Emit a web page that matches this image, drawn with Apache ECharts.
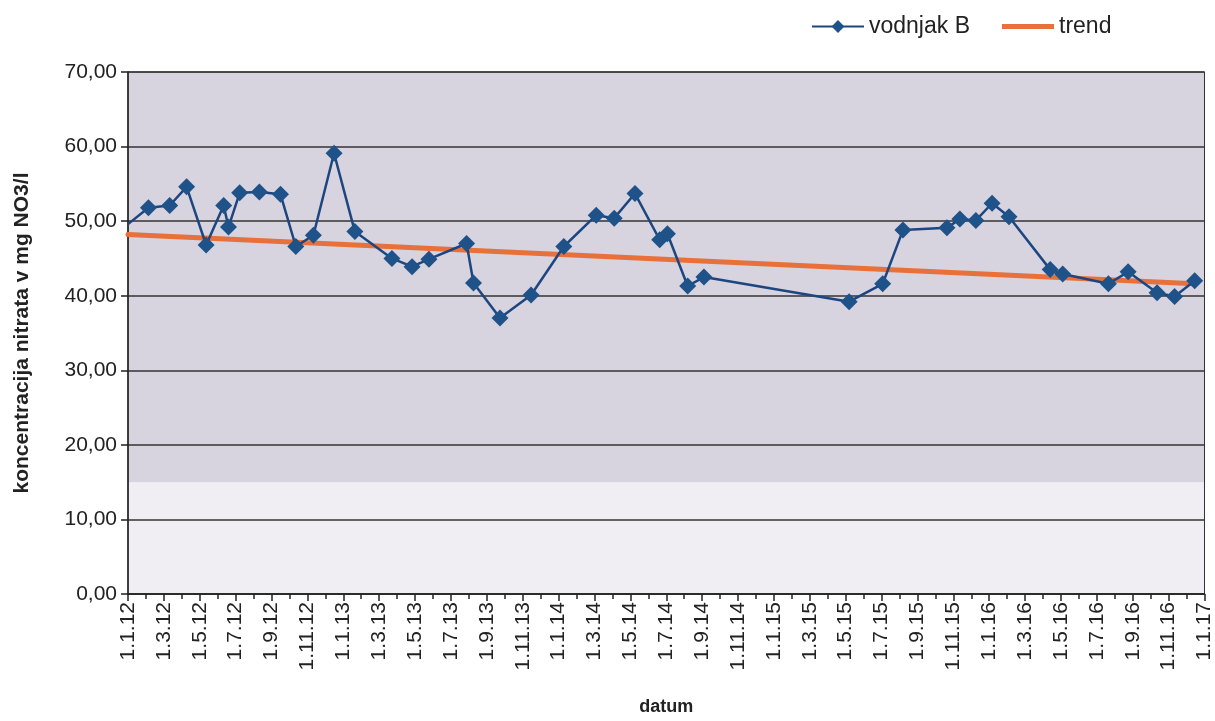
<!DOCTYPE html>
<html>
<head>
<meta charset="utf-8">
<script src="https://cdn.jsdelivr.net/npm/echarts@6/dist/echarts.min.js"></script>
<style>
  html, body { margin: 0; padding: 0; background: #fff; }
  #chart { width: 1215px; height: 721px; }
</style>
</head>
<body>
<div id="chart"></div>
<script>
// datumi meritev (vodnjak B)
var datumi = [
  '2012-01-01', '2012-02-05', '2012-03-11', '2012-04-09', '2012-05-12', '2012-06-11',
  '2012-06-19', '2012-07-08', '2012-08-11', '2012-09-16', '2012-10-12', '2012-11-11',
  '2012-12-16', '2013-01-21', '2013-03-23', '2013-04-26', '2013-05-25', '2013-07-28',
  '2013-08-09', '2013-09-23', '2013-11-15', '2014-01-10', '2014-03-04', '2014-04-04',
  '2014-05-09', '2014-06-20', '2014-07-03', '2014-08-07', '2014-09-04', '2015-05-07',
  '2015-07-03', '2015-08-07', '2015-10-21', '2015-11-12', '2015-12-09', '2016-01-06',
  '2016-02-04', '2016-04-13', '2016-05-04', '2016-07-21', '2016-08-24', '2016-10-12',
  '2016-11-11', '2016-12-15'
];
// koncentracija nitrata (mg NO3/l)
var vodnjakB = [
  49.6, 51.8, 52.1, 54.6, 46.8, 52.1,
  49.2, 53.8, 53.9, 53.6, 46.6, 48.1,
  59.1, 48.6, 45.0, 43.9, 44.9, 47.0,
  41.7, 37.0, 40.1, 46.6, 50.8, 50.4,
  53.7, 47.5, 48.3, 41.3, 42.5, 39.2,
  41.6, 48.8, 49.1, 50.3, 50.1, 52.4,
  50.6, 43.5, 42.9, 41.6, 43.2, 40.4,
  39.9, 42.0
];
// trend - zacetek in konec
var trendDatumi = ['2012-01-01', '2016-12-15'];
var trendVrednosti = [48.2, 41.6];

// pasovi ozadja
var pasSpodaj = [0, 15];
var pasZgoraj = [15, 70];

// datum -> stevilo mesecev od 1.1.2012
function meseci(d) {
  var p = d.split('-');
  var y = +p[0], m = +p[1], dan = +p[2];
  var dni = new Date(y, m, 0).getDate();
  return (y - 2012) * 12 + (m - 1) + (dan - 1) / dni;
}

var tockeB = datumi.map(function (d, i) {
  var t = { value: [meseci(d), vodnjakB[i]] };
  if (i === 0) t.symbol = 'none';
  return t;
});
var tockeTrend = trendDatumi.map(function (d, i) {
  return [meseci(d), trendVrednosti[i]];
});

var font = 'Liberation Sans, Arial, sans-serif';
// ikona za trend v legendi: debela crta na sredini
var trendIkona = 'path://M0,0 L1,0 L1,0.05 Z M0,5.5 L52,5.5 L52,10.5 L0,10.5 Z M51,16 L52,16 L52,15.95 Z';

var myChart = echarts.init(document.getElementById('chart'));

var option = {
  animation: false,
  legend: {
    top: 10,
    left: 806,
    itemGap: 32,
    itemWidth: 52,
    itemHeight: 16,
    textStyle: { fontFamily: font, fontSize: 23, color: '#222' },
    data: [
      { name: 'vodnjak B' },
      { name: 'trend', icon: trendIkona, itemStyle: { color: '#e8703a' } }
    ]
  },
  grid: {
    left: 128, right: 7, top: 72, bottom: 113,
    show: true,
    backgroundColor: 'transparent',
    borderColor: '#333',
    borderWidth: 1
  },
  xAxis: {
    type: 'value',
    min: 0, max: 60, interval: 2,
    name: 'datum',
    nameLocation: 'middle',
    nameGap: 104,
    nameTextStyle: { fontFamily: font, fontSize: 18, fontWeight: 'bold', color: '#222' },
    axisLine: { lineStyle: { color: '#222', width: 1.5 } },
    axisTick: { length: 7, lineStyle: { color: '#222', width: 1.5 } },
    minorTick: { show: true, splitNumber: 2, length: 5, lineStyle: { color: '#222', width: 1.5 } },
    splitLine: { show: false },
    axisLabel: {
      rotate: 90,
      margin: 8,
      fontFamily: font, fontSize: 21, color: '#222',
      formatter: function (v) {
        var mes = (v % 12) + 1;
        var leto = 12 + Math.floor(v / 12);
        return '1.' + mes + '.' + leto;
      }
    }
  },
  yAxis: {
    type: 'value',
    min: 0, max: 70, interval: 10,
    name: 'koncentracija nitrata v mg NO3/l',
    nameLocation: 'middle',
    nameGap: 95,
    nameTextStyle: { fontFamily: font, fontSize: 21, fontWeight: 'bold', color: '#222' },
    axisLine: { show: true, lineStyle: { color: '#222', width: 1.5 } },
    axisTick: { show: true, length: 7, lineStyle: { color: '#222', width: 1.5 } },
    splitLine: { lineStyle: { color: '#333', width: 1.5 } },
    axisLabel: {
      margin: 11,
      fontFamily: font, fontSize: 21, color: '#222',
      formatter: function (v) { return v.toFixed(2).replace('.', ','); }
    }
  },
  series: [
    {
      // samo ozadje (pasova)
      name: 'ozadje',
      type: 'line',
      data: [],
      z: -10,
      silent: true,
      markArea: {
        silent: true,
        z: -10,
        data: [
          [{ yAxis: pasSpodaj[0], itemStyle: { color: '#f0eef3' } }, { yAxis: pasSpodaj[1] }],
          [{ yAxis: pasZgoraj[0], itemStyle: { color: '#d7d3df' } }, { yAxis: pasZgoraj[1] }]
        ]
      }
    },
    {
      name: 'vodnjak B',
      type: 'line',
      data: tockeB,
      symbol: 'diamond',
      symbolSize: 17,
      itemStyle: { color: '#1f5288' },
      lineStyle: { color: '#1d4680', width: 2.5 },
      z: 3
    },
    {
      name: 'trend',
      type: 'line',
      data: tockeTrend,
      showSymbol: false,
      itemStyle: { color: '#e8703a' },
      lineStyle: { color: '#e8703a', width: 5, cap: 'round' },
      z: 2
    }
  ]
};

myChart.setOption(option);
</script>
</body>
</html>
